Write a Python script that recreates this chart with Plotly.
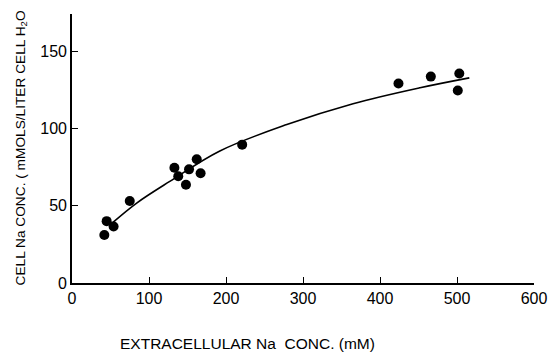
import plotly.graph_objects as go

# Data points
ext_na = [42, 45, 54, 75, 133, 138, 148, 152, 162, 167, 221, 424, 466, 503, 501]
cell_na = [31, 40, 36.5, 53, 74.5, 69, 63.5, 73.5, 80, 71, 89.5, 129, 133.5, 135.5, 124.5]

# Fitted curve
curve_x = [52, 84, 127, 192, 279, 365, 452, 516]
curve_y = [38.7, 51.7, 65.7, 85.4, 102.5, 116, 126.3, 132.7]

x_ticks = [0, 100, 200, 300, 400, 500, 600]
y_ticks = [0, 50, 100, 150]

font_family = "Liberation Sans, Arial, sans-serif"

fig = go.Figure()
fig.add_trace(go.Scatter(x=curve_x, y=curve_y, mode="lines",
                         line=dict(color="black", width=1.6, shape="spline", smoothing=1.0),
                         showlegend=False, hoverinfo="skip"))
fig.add_trace(go.Scatter(x=ext_na, y=cell_na, mode="markers",
                         marker=dict(color="black", size=10),
                         showlegend=False))

axis_common = dict(ticks="inside", ticklen=6, tickwidth=1.3, tickcolor="black",
                   showline=True, linecolor="black", linewidth=1.6,
                   showgrid=False, zeroline=False, automargin=False,
                   tickfont=dict(size=16))

fig.update_layout(
    template="none",
    width=550, height=358,
    margin=dict(l=72, r=16, t=14, b=75),
    paper_bgcolor="white", plot_bgcolor="white",
    font=dict(family=font_family, size=16, color="black"),
    xaxis=dict(range=[0, 600], tickvals=x_ticks, **axis_common),
    yaxis=dict(range=[0, 174], tickvals=y_ticks, **axis_common),
    annotations=[
        dict(text="EXTRACELLULAR Na  CONC. (mM)", xref="paper", yref="paper",
             x=(247 - 72) / 462, y=-(343 - 283) / 269, showarrow=False,
             font=dict(size=15.5), xanchor="center", yanchor="middle"),
        dict(text="CELL Na CONC. ( mMOLS/LITER CELL H<sub>2</sub>O", xref="paper", yref="paper",
             x=-(72 - 21) / 462, y=(283 - 148.5) / 269, showarrow=False, textangle=-90,
             font=dict(size=13.7), xanchor="center", yanchor="middle"),
    ],
)

fig.write_html("out.html",
               config={"displayModeBar": False},
               post_script="document.body.style.margin='0';document.body.style.overflow='hidden';")
